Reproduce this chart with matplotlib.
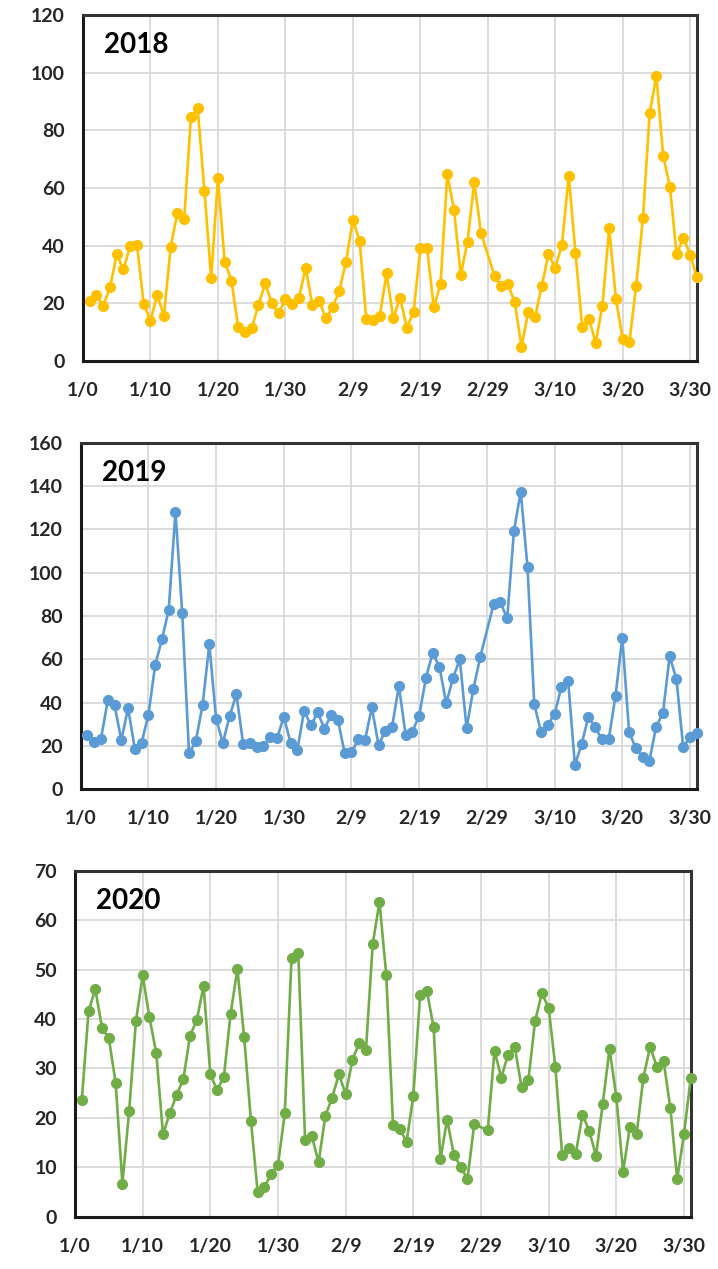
import matplotlib
matplotlib.use("Agg")
import matplotlib.pyplot as plt

# day index on the Excel date axis (1/0 = day 0); 2/29 has no point
days = list(range(1, 60)) + list(range(61, 92))

tick_days = [0, 10, 20, 30, 40, 50, 60, 70, 80, 90]
tick_labels = ["1/0", "1/10", "1/20", "1/30", "2/9", "2/19", "2/29", "3/10", "3/20", "3/30"]

vals_2018 = [
    20.8, 22.9, 19.1, 25.5, 37.0, 31.8, 39.9, 40.2, 19.8, 13.9,
    22.9, 15.7, 39.7, 51.4, 49.2, 84.7, 87.6, 59.0, 28.7, 63.4,
    34.5, 27.9, 11.9, 10.2, 11.3, 19.4, 26.9, 20.0, 16.5, 21.4,
    19.8, 21.7, 32.4, 19.4, 20.9, 14.8, 18.6, 24.4, 34.5, 48.9,
    41.7, 14.5, 14.2, 15.6, 30.4, 14.8, 22.0, 11.6, 16.9, 39.1,
    39.3, 18.6, 26.7, 64.7, 52.4, 29.8, 41.4, 62.2, 44.3,
    29.5, 26.0, 26.6, 20.3, 5.0, 17.1, 15.1, 26.0, 37.0, 32.4,
    40.2, 64.2, 37.6, 11.7, 14.6, 6.4, 19.2, 46.0, 21.5, 7.6,
    6.7, 26.1, 49.5, 85.9, 98.8, 71.1, 60.5, 37.0, 42.8, 36.8,
    29.2,
]

vals_2019 = [
    25.1, 21.8, 23.4, 41.1, 38.8, 22.7, 37.5, 18.6, 21.6, 34.3,
    57.4, 69.2, 82.8, 128.2, 81.2, 16.6, 22.2, 38.8, 66.9, 32.5,
    21.5, 33.8, 43.9, 20.9, 21.2, 19.7, 20.0, 24.0, 23.5, 33.5,
    21.5, 18.1, 36.2, 29.5, 35.6, 28.0, 34.2, 32.0, 16.6, 17.0,
    23.0, 22.8, 37.8, 20.5, 27.1, 28.9, 47.8, 25.1, 26.6, 34.0,
    51.5, 63.1, 56.3, 39.7, 51.5, 60.0, 28.2, 46.2, 60.9,
    85.5, 86.3, 78.9, 119.4, 137.4, 102.5, 39.2, 26.6, 29.7, 34.8,
    47.1, 50.2, 11.2, 20.9, 33.5, 28.6, 23.1, 23.1, 43.1, 70.0,
    26.6, 18.9, 15.1, 13.2, 28.9, 35.1, 61.5, 50.8, 19.4, 24.3,
    25.8,
]

vals_2020 = [
    23.6, 41.6, 46.0, 38.1, 36.1, 27.1, 6.7, 21.4, 39.6, 48.8,
    40.3, 33.2, 16.7, 20.9, 24.6, 27.8, 36.6, 39.8, 46.7, 28.8,
    25.6, 28.3, 41.1, 50.1, 36.3, 19.4, 4.9, 6.1, 8.6, 10.5,
    20.9, 52.3, 53.3, 15.6, 16.3, 11.0, 20.4, 24.1, 28.8, 24.8,
    31.7, 35.2, 33.7, 55.2, 63.7, 48.9, 18.5, 17.7, 15.2, 24.4,
    44.8, 45.7, 38.3, 11.6, 19.6, 12.5, 10.1, 7.6, 18.7,
    17.5, 33.6, 28.1, 32.8, 34.3, 26.2, 27.6, 39.6, 45.2, 42.3,
    30.2, 12.5, 14.0, 12.7, 20.6, 17.4, 12.3, 22.9, 33.9, 24.3,
    9.1, 18.1, 16.7, 28.1, 34.4, 30.3, 31.4, 21.9, 7.6, 16.7,
    28.0,
]

panels = [
    ("2018", vals_2018, "#FFC000", (0, 120), 20, [0.1156, 0.7155, 0.855, 0.2727]),
    ("2019", vals_2019, "#5B9BD5", (0, 160), 20, [0.1124, 0.3780, 0.858, 0.2731]),
    ("2020", vals_2020, "#70AD47", (0, 70), 10, [0.1045, 0.0412, 0.8575, 0.2727]),
]

plt.rcParams["font.family"] = ["Lato", "DejaVu Sans"]

fig = plt.figure(figsize=(7.18, 12.69), dpi=100)
fig.patch.set_facecolor("white")

for year, vals, color, ylim, ystep, rect in panels:
    ax = fig.add_axes(rect)
    ax.plot(days, vals, color=color, linewidth=1.9, marker="o",
            markersize=7, markerfacecolor=color, markeredgecolor=color,
            zorder=3, clip_on=False)

    ax.set_xlim(0, 91)
    ax.set_ylim(*ylim)
    ax.set_xticks(tick_days)
    ax.set_xticklabels(tick_labels)
    ax.set_yticks(range(ylim[0], ylim[1] + 1, ystep))

    ax.grid(True, color="#d9d9d9", linewidth=1.3)
    ax.set_axisbelow(True)

    ax.tick_params(axis="both", length=0, labelsize=14, colors="#262626")
    ax.tick_params(axis="x", pad=15)
    ax.tick_params(axis="y", pad=13)
    for lbl in ax.get_xticklabels() + ax.get_yticklabels():
        lbl.set_fontweight("bold")

    for name, spine in ax.spines.items():
        spine.set_linewidth(2.2)
        spine.set_color("#1a1a1a" if name in ("left", "bottom") else "#333333")

    ax.text(0.034, 0.95, year, transform=ax.transAxes, fontsize=20,
            fontweight="bold", color="black", va="top", ha="left")

fig.savefig("out.png", dpi=100, facecolor="white")
